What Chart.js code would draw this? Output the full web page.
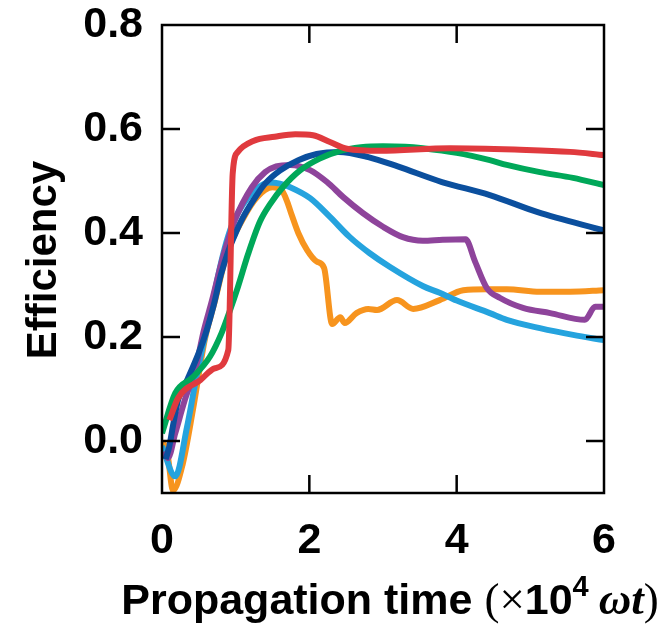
<!DOCTYPE html>
<html>
<head>
<meta charset="utf-8">
<script src="https://cdn.jsdelivr.net/npm/chart.js@4.4.1/dist/chart.umd.min.js"></script>
<style>
html,body{margin:0;padding:0;background:#fff;}
canvas{display:block;}
</style>
</head>
<body>
<canvas id="c" width="662" height="624"></canvas>
<script>
// ---- data (x in 10^4 ωt, y = efficiency) ----
const xTicks = [0, 2, 4, 6];
const yTicks = [0.0, 0.2, 0.4, 0.6, 0.8];
const xMarks = [2, 4];
const yMarks = [0.0, 0.2, 0.4, 0.6];

const redSeries = [[0.1,0.04],[0.22,0.083],[0.52,0.117],[0.72,0.14],[0.9,0.175],[0.96,0.515],[1.03,0.556],[1.24,0.577],[1.53,0.585],[1.81,0.59],[2.05,0.588],[2.28,0.575],[2.51,0.562],[2.96,0.558],[3.91,0.563],[4.86,0.56],[5.54,0.556],[6.0,0.55]];
const orangeSeries = [[0,0.0],[0.07,-0.02],[0.15,-0.095],[0.28,-0.045],[0.42,0.06],[0.58,0.194],[0.72,0.27],[0.88,0.36],[1.09,0.425],[1.29,0.469],[1.5,0.488],[1.62,0.483],[1.7,0.46],[1.76,0.435],[1.85,0.4],[1.97,0.367],[2.1,0.345],[2.2,0.333],[2.31,0.225],[2.42,0.238],[2.48,0.227],[2.64,0.246],[2.8,0.254],[2.92,0.252],[3.19,0.271],[3.41,0.254],[3.77,0.271],[4.09,0.29],[4.41,0.292],[4.68,0.292],[5.13,0.287],[5.54,0.287],[6.0,0.29]];
const lightBlueSeries = [[0,-0.01],[0.18,-0.068],[0.34,0.027],[0.45,0.11],[0.55,0.18],[0.65,0.24],[0.75,0.31],[0.85,0.37],[0.95,0.415],[1.1,0.455],[1.26,0.482],[1.45,0.497],[1.6,0.495],[1.74,0.488],[2.01,0.467],[2.28,0.431],[2.55,0.392],[2.82,0.361],[3.09,0.335],[3.54,0.298],[3.77,0.285],[4.0,0.27],[4.45,0.246],[4.68,0.233],[5.13,0.217],[5.58,0.204],[6.0,0.194]];
const purpleSeries = [[0.03,-0.02],[0.08,-0.033],[0.18,0.015],[0.31,0.079],[0.46,0.142],[0.56,0.208],[0.68,0.271],[0.83,0.355],[0.99,0.425],[1.22,0.488],[1.4,0.517],[1.55,0.528],[1.74,0.531],[2.01,0.521],[2.24,0.498],[2.46,0.469],[2.73,0.438],[3.0,0.412],[3.27,0.392],[3.54,0.385],[3.81,0.387],[4.12,0.388],[4.25,0.345],[4.41,0.294],[4.59,0.275],[4.9,0.256],[5.27,0.246],[5.74,0.233],[5.88,0.258],[6.0,0.258]];
const darkBlueSeries = [[0.05,-0.035],[0.1,-0.01],[0.15,0.03],[0.22,0.08],[0.35,0.12],[0.5,0.17],[0.6,0.21],[0.7,0.26],[0.8,0.32],[0.9,0.365],[1.0,0.40],[1.1,0.43],[1.25,0.465],[1.4,0.495],[1.6,0.52],[1.85,0.54],[2.1,0.552],[2.4,0.556],[2.8,0.546],[3.2,0.528],[3.8,0.498],[4.45,0.473],[5.1,0.44],[6.0,0.405]];
const greenSeries = [[0,0.015],[0.18,0.092],[0.42,0.123],[0.65,0.162],[0.81,0.208],[0.92,0.25],[1.03,0.296],[1.17,0.36],[1.33,0.422],[1.47,0.456],[1.64,0.488],[1.87,0.52],[2.14,0.543],[2.42,0.558],[2.7,0.565],[3.0,0.567],[3.3,0.566],[3.54,0.563],[4.0,0.554],[4.45,0.54],[4.68,0.531],[5.13,0.517],[5.58,0.506],[6.0,0.492]];

const toPts = arr => arr.map(([x, y]) => ({x, y}));

const decor = {
  id: 'decor',
  afterDatasetsDraw(chart) {
    const {ctx, chartArea: a, scales: {x, y}} = chart;
    ctx.save();
    ctx.strokeStyle = '#000';
    ctx.lineWidth = 2.5;
    ctx.strokeRect(a.left, a.top, a.right - a.left, a.bottom - a.top);
    const L = 18;
    ctx.beginPath();
    yMarks.forEach(v => {
      const p = y.getPixelForValue(v);
      ctx.moveTo(a.left, p); ctx.lineTo(a.left + L, p);
      ctx.moveTo(a.right, p); ctx.lineTo(a.right - L, p);
    });
    xMarks.forEach(v => {
      const p = x.getPixelForValue(v);
      ctx.moveTo(p, a.bottom); ctx.lineTo(p, a.bottom - L);
      ctx.moveTo(p, a.top); ctx.lineTo(p, a.top + L);
    });
    ctx.stroke();

    // y title
    ctx.fillStyle = '#000';
    ctx.save();
    ctx.translate(56, 260);
    ctx.rotate(-Math.PI / 2);
    ctx.font = 'bold 42px "Liberation Sans", Arial, sans-serif';
    ctx.textAlign = 'center';
    ctx.textBaseline = 'alphabetic';
    ctx.fillText('Efficiency', 0, 0);
    ctx.restore();

    // x title with mixed fonts
    const base = 614;
    const segs = [
      {t: 'Propagation time ', f: 'bold 43px "Liberation Sans", Arial, sans-serif', dy: 0},
      {t: '(\u00d7', f: '45px "Liberation Serif", serif', dy: 0},
      {t: '10', f: 'bold 43px "Liberation Sans", Arial, sans-serif', dy: 0},
      {t: '4', f: 'bold 29px "Liberation Sans", Arial, sans-serif', dy: -18},
      {t: ' ', f: '40px "Liberation Serif", serif', dy: 0},
      {t: '\u03c9t', f: 'italic bold 45px "Liberation Serif", serif', dy: 0},
      {t: ')', f: '45px "Liberation Serif", serif', dy: 0}
    ];
    let total = 0;
    segs.forEach(s => { ctx.font = s.f; s.w = ctx.measureText(s.t).width; total += s.w; });
    let cx = 390 - total / 2;
    ctx.textAlign = 'left';
    ctx.textBaseline = 'alphabetic';
    segs.forEach(s => { ctx.font = s.f; ctx.fillText(s.t, cx, base + s.dy); cx += s.w; });
    ctx.restore();
  }
};

const tickFont = {family: '"Liberation Sans", Arial, sans-serif', size: 43, weight: 'bold'};
const W = 6;

new Chart(document.getElementById('c'), {
  type: 'line',
  data: {
    datasets: [
      {data: toPts(redSeries), borderColor: '#e03a3e', borderWidth: W, order: 0},
      {data: toPts(greenSeries), borderColor: '#00a859', borderWidth: W, order: 1},
      {data: toPts(darkBlueSeries), borderColor: '#0b4f9e', borderWidth: W, order: 2},
      {data: toPts(purpleSeries), borderColor: '#8e449b', borderWidth: W, order: 3},
      {data: toPts(lightBlueSeries), borderColor: '#25a3de', borderWidth: W, order: 4},
      {data: toPts(orangeSeries), borderColor: '#f7941e', borderWidth: W, order: 5}
    ]
  },
  options: {
    responsive: false,
    animation: false,
    devicePixelRatio: 1,
    layout: {padding: {left: 0, top: 25, right: 58, bottom: 0}},
    plugins: {legend: {display: false}, tooltip: {enabled: false}},
    elements: {
      point: {radius: 0},
      line: {borderWidth: W, cubicInterpolationMode: 'monotone', fill: false, borderCapStyle: 'butt', borderJoinStyle: 'round'}
    },
    scales: {
      x: {
        type: 'linear', min: 0, max: 6,
        grid: {display: false, drawTicks: false},
        border: {display: false},
        afterBuildTicks: s => { s.ticks = xTicks.map(v => ({value: v})); },
        afterFit: s => { s.height = 131; s.paddingLeft = 0; s.paddingRight = 0; },
        ticks: {font: tickFont, color: '#000', padding: 22, maxRotation: 0, autoSkip: false, callback: v => String(v)}
      },
      y: {
        type: 'linear', min: -0.1, max: 0.8,
        grid: {display: false, drawTicks: false},
        border: {display: false},
        afterBuildTicks: s => { s.ticks = yTicks.map(v => ({value: v})); },
        afterFit: s => { s.width = 162; s.paddingTop = 0; s.paddingBottom = 0; },
        ticks: {font: tickFont, color: '#000', padding: 19, autoSkip: false, callback: v => Number(v).toFixed(1)}
      }
    }
  },
  plugins: [decor]
});
</script>
</body>
</html>
